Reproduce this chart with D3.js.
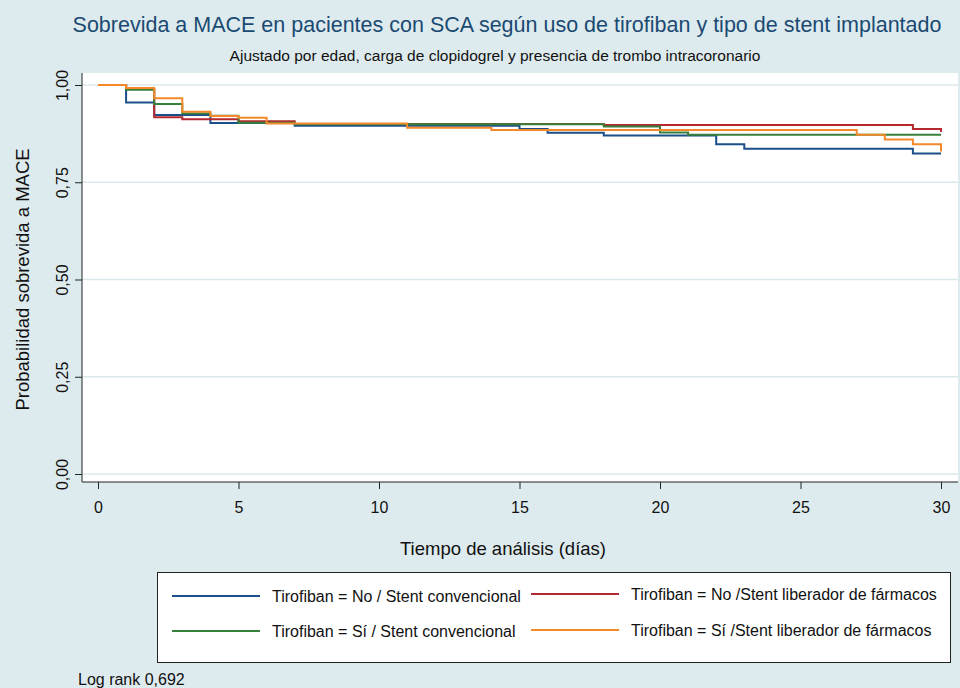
<!DOCTYPE html>
<html>
<head>
<meta charset="utf-8">
<script src="https://cdn.jsdelivr.net/npm/d3@7"></script>
<style>
html,body{margin:0;padding:0;background:#deebee;}
svg{display:block;font-family:"Liberation Sans",Arial,sans-serif;}
</style>
</head>
<body>
<svg id="chart" width="960" height="688"></svg>
<script>
// ---- data ----
const seriesNames = [
  "Tirofiban = No / Stent convencional",
  "Tirofiban = No /Stent liberador de fármacos",
  "Tirofiban = Sí / Stent convencional",
  "Tirofiban = Sí /Stent liberador de fármacos"
];
const blueDays  = [0, 1, 2, 4, 7, 15, 16, 18, 22, 23, 29, 30];
const blueSurv  = [1, 0.955, 0.923, 0.902, 0.895, 0.887, 0.877, 0.870, 0.848, 0.836, 0.824, 0.824];
const redDays   = [0, 1, 2, 3, 5, 7, 18, 29, 30];
const redSurv   = [1, 0.990, 0.917, 0.912, 0.907, 0.900, 0.897, 0.887, 0.879];
const greenDays = [0, 1, 2, 3, 4, 5, 7, 18, 20, 21, 30];
const greenSurv = [1, 0.988, 0.951, 0.927, 0.921, 0.903, 0.899, 0.893, 0.878, 0.872, 0.872];
const orangeDays = [0, 1, 2, 3, 4, 5, 6, 11, 14, 27, 28, 29, 30];
const orangeSurv = [1, 0.992, 0.966, 0.931, 0.920, 0.916, 0.901, 0.890, 0.884, 0.872, 0.860, 0.848, 0.829];
const xTicks = [0, 5, 10, 15, 20, 25, 30];
const yTicks = [0, 0.25, 0.5, 0.75, 1];
const titleText = "Sobrevida a MACE en pacientes con SCA según uso de tirofiban y tipo de stent implantado";
const subtitleText = "Ajustado por edad, carga de clopidogrel y presencia de trombo intracoronario";
const xTitle = "Tiempo de análisis (días)";
const yTitle = "Probabilidad sobrevida a MACE";
const noteText = "Log rank 0,692";

const colors = ["#1b4f8a", "#b5282e", "#37803a", "#f5892a"];
const series = [
  {days: blueDays, surv: blueSurv},
  {days: redDays, surv: redSurv},
  {days: greenDays, surv: greenSurv},
  {days: orangeDays, surv: orangeSurv}
];

const svg = d3.select("#chart");
const bg = "#deebee";
svg.append("rect").attr("width", 960).attr("height", 688).attr("fill", bg);

// plot region
const pr = {left: 82, right: 958, top: 73, bottom: 482};
svg.append("rect").attr("x", pr.left).attr("y", pr.top)
  .attr("width", pr.right - pr.left).attr("height", pr.bottom - pr.top).attr("fill", "#fff");

const x = d3.scaleLinear().domain([0, 30]).range([98, 941]);
const y = d3.scaleLinear().domain([0, 1]).range([474, 85]);

// grid
svg.append("g").selectAll("line").data(yTicks).join("line")
  .attr("x1", pr.left).attr("x2", pr.right)
  .attr("y1", d => y(d)).attr("y2", d => y(d))
  .attr("stroke", "#dbe8eb").attr("stroke-width", 1.5);

// axes
const fmt = d => d3.format(".2f")(d).replace(".", ",");
const yAxis = svg.append("g").attr("transform", `translate(${pr.left},0)`)
  .call(d3.axisLeft(y).tickValues(yTicks).tickFormat(fmt).tickSize(7).tickSizeOuter(0));
yAxis.select(".domain").remove();
yAxis.append("line").attr("x1", 0).attr("x2", 0).attr("y1", pr.top).attr("y2", pr.bottom).attr("stroke", "#222");
yAxis.selectAll(".tick line").attr("stroke", "#222");
yAxis.selectAll(".tick text")
  .attr("font-size", 16).attr("fill", "#111")
  .attr("text-anchor", "middle")
  .attr("x", null).attr("dy", null)
  .attr("transform", "translate(-20,0) rotate(-90)")
  .attr("y", 0).attr("dominant-baseline", "central");

const xAxis = svg.append("g").attr("transform", `translate(0,${pr.bottom})`)
  .call(d3.axisBottom(x).tickValues(xTicks).tickFormat(d3.format("d")).tickSize(7).tickSizeOuter(0));
xAxis.select(".domain").remove();
xAxis.append("line").attr("x1", pr.left).attr("x2", pr.right).attr("y1", 0).attr("y2", 0).attr("stroke", "#222");
xAxis.selectAll(".tick line").attr("stroke", "#222");
xAxis.selectAll(".tick text").attr("font-size", 16).attr("fill", "#111").attr("y", 20);

// curves
const line = d3.line().x(d => x(d[0])).y(d => y(d[1])).curve(d3.curveStepAfter);
series.forEach((s, i) => {
  const pts = s.days.map((d, j) => [d, s.surv[j]]);
  svg.append("path").datum(pts).attr("d", line)
    .attr("fill", "none").attr("stroke", colors[i]).attr("stroke-width", 2);
});

// titles
svg.append("text").attr("x", 507).attr("y", 32).attr("text-anchor", "middle")
  .attr("font-size", 21.5).attr("fill", "#1a4a72").text(titleText);
svg.append("text").attr("x", 495).attr("y", 61).attr("text-anchor", "middle")
  .attr("font-size", 15.5).attr("fill", "#111").text(subtitleText);
svg.append("text").attr("x", 503).attr("y", 555).attr("text-anchor", "middle")
  .attr("font-size", 18.5).attr("fill", "#111").text(xTitle);
svg.append("text").attr("transform", `translate(29,${y(0.5)}) rotate(-90)`).attr("text-anchor", "middle")
  .attr("font-size", 18.5).attr("fill", "#111").text(yTitle);

// legend
const lg = svg.append("g");
lg.append("rect").attr("x", 157.5).attr("y", 572.5).attr("width", 793).attr("height", 90)
  .attr("fill", "#fff").attr("stroke", "#222").attr("stroke-width", 1);
const legPos = [[172, 596], [531, 594], [172, 631], [531, 630]];
seriesNames.forEach((n, i) => {
  const [lx, ly] = legPos[i];
  lg.append("line").attr("x1", lx).attr("x2", lx + 88).attr("y1", ly).attr("y2", ly)
    .attr("stroke", colors[i]).attr("stroke-width", 2);
  lg.append("text").attr("x", lx + 100).attr("y", ly + 6).attr("font-size", 16).attr("fill", "#111").text(n);
});

svg.append("text").attr("x", 78).attr("y", 685).attr("font-size", 16).attr("fill", "#111").text(noteText);
</script>
</body>
</html>
